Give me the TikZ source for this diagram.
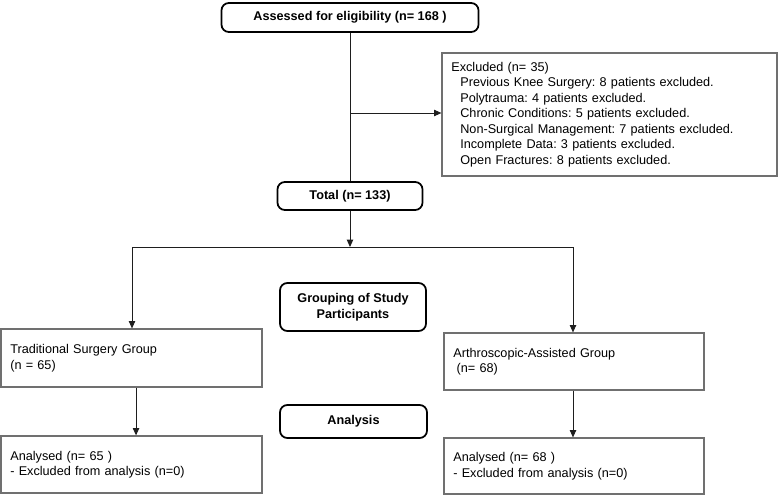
\documentclass[tikz,border=0pt]{standalone}
\usepackage{fontspec}
\setmainfont{Liberation Sans}
\usetikzlibrary{arrows.meta, positioning, calc}
\definecolor{boxGray}{HTML}{707070}
\definecolor{lineDark}{HTML}{1E1E1E}
\frenchspacing

\begin{document}
\begin{tikzpicture}[
  x=0.75pt, y=-0.75pt,
  font=\fontsize{9.5}{11.6}\selectfont,
  >={Triangle[length=5.5pt, width=4.8pt]},
  stagebox/.style={rectangle, rounded corners=5.5pt, draw=black, line width=1.3pt,
                   fill=white, align=center, inner sep=2pt,
                   font=\fontsize{9.5}{11.6}\selectfont\bfseries},
  infobox/.style={rectangle, draw=boxGray, line width=0.9pt, fill=white,
                  align=left, inner xsep=7pt, inner ysep=2pt},
  arrow/.style={->, draw=lineDark, line width=0.7pt},
  link/.style={draw=lineDark, line width=0.7pt},
]

% ── Grid coordinates (pixels of the flow chart) ────────────────────
\def\colL{131.5}    % left arm x
\def\colM{350}      % main stem x
\def\colR{574}      % right arm x
\def\colX{609.5}    % exclusion box x
\def\rowSplit{247}  % y of the branching line

\useasboundingbox (0,0) rectangle (779,496);

% ── Nodes ──────────────────────────────────────────────────────────
\node[stagebox, minimum width=192.75pt, minimum height=21.75pt]
  (assess) at (\colM,17.5) {Assessed for eligibility (n= 168 )};

\node[infobox, minimum width=251.25pt, minimum height=92.25pt, text width=237.25pt]
  (excl) at (\colX,114.5)
  {Excluded (n= 35)\\
   \hspace*{6.75pt}Previous Knee Surgery: 8 patients excluded.\\
   \hspace*{6.75pt}Polytrauma: 4 patients excluded.\\
   \hspace*{6.75pt}Chronic Conditions: 5 patients excluded.\\
   \hspace*{6.75pt}Non-Surgical Management: 7 patients excluded.\\
   \hspace*{6.75pt}Incomplete Data: 3 patients excluded.\\
   \hspace*{6.75pt}Open Fractures: 8 patients excluded.};

\node[stagebox, minimum width=108.75pt, minimum height=21pt]
  (total) at (\colM,196) {Total (n= 133)};

\node[stagebox, minimum width=109.5pt, minimum height=36pt]
  (group) at (353,307) {Grouping of Study\\Participants};

\node[infobox, minimum width=195.75pt, minimum height=43.5pt, text width=181.75pt]
  (trad) at (\colL,358) {Traditional Surgery Group\\(n = 65)};
\node[infobox, minimum width=195pt, minimum height=42.75pt, text width=181pt]
  (arth) at (\colR,361.5) {Arthroscopic-Assisted Group\\\hspace*{2.5pt}(n= 68)};

\node[stagebox, minimum width=110.25pt, minimum height=24.75pt]
  (analysis) at (353.5,421.5) {Analysis};

\node[infobox, minimum width=195.75pt, minimum height=42.75pt, text width=181.75pt]
  (anaL) at (\colL,464.5) {Analysed (n= 65 )\\- Excluded from analysis (n=0)};
\node[infobox, minimum width=195pt, minimum height=42pt, text width=181pt]
  (anaR) at (\colR,466) {Analysed (n= 68 )\\- Excluded from analysis (n=0)};

% ── Main stem ──────────────────────────────────────────────────────
\coordinate (exclTap) at (\colM,113);
\coordinate (split)   at (\colM,\rowSplit);
\coordinate (splitL)  at (132,\rowSplit);
\coordinate (splitR)  at (573,\rowSplit);

\draw[link]  (assess) -- (total);
\draw[arrow] (exclTap) -- (exclTap -| excl.west);
\draw[arrow] (total) -- (split);

% ── Branches ───────────────────────────────────────────────────────
\draw[link]  (splitL) -- (splitR);
\draw[arrow] (splitL) -- (splitL |- trad.north);
\draw[arrow] (splitR) -- (splitR |- arth.north);

\draw[arrow] ([xshift=3.4pt]trad.south) -- ([xshift=3.4pt]anaL.north);
\draw[arrow] ([xshift=-0.75pt]arth.south) -- ([xshift=-0.75pt]anaR.north);

\end{tikzpicture}
\end{document}
